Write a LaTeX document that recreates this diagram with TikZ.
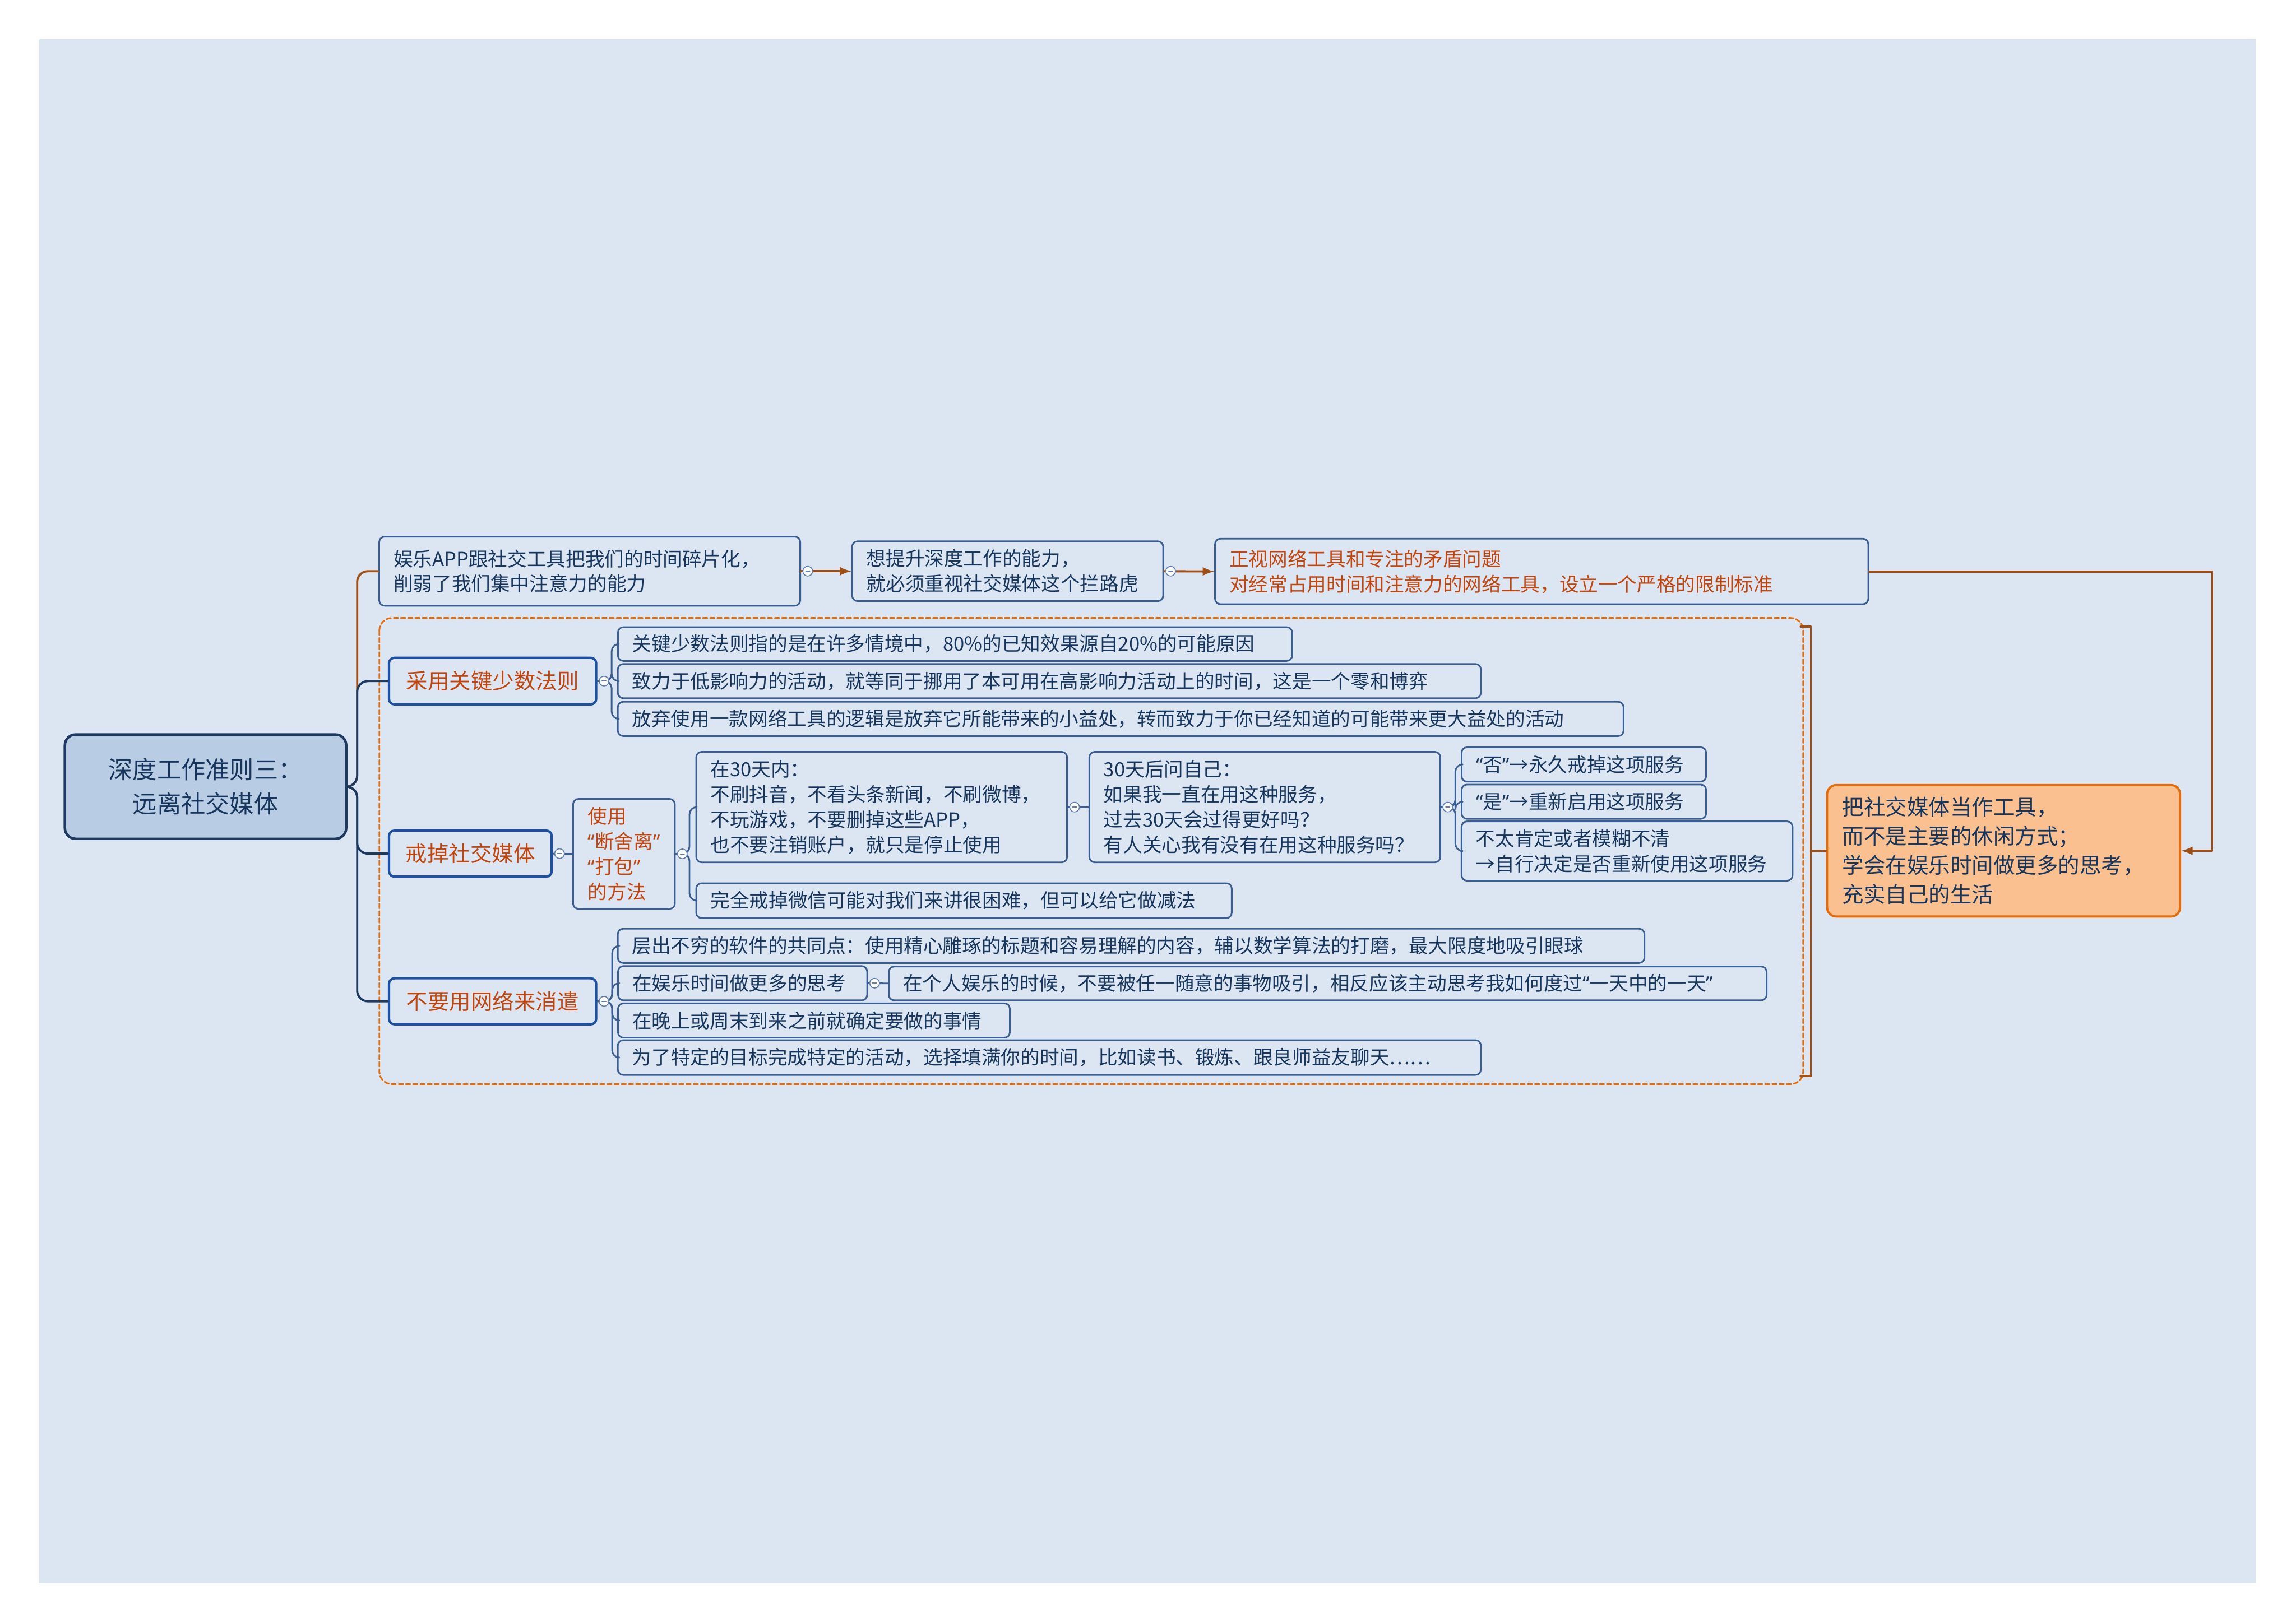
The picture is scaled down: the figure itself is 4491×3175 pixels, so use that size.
\documentclass[tikz,border=0pt]{standalone}
\usepackage{fontspec}
\newfontfamily\cjk{Noto Sans CJK SC}
\newfontfamily\latinq{Noto Sans}
\newcommand\qo{{\latinq “}}
\newcommand\qc{{\latinq ”}}
\usetikzlibrary{arrows}
\definecolor{bgblue}{HTML}{DCE6F2}
\definecolor{rootfill}{HTML}{B8CCE4}
\definecolor{rootline}{HTML}{1F3A60}
\definecolor{navy}{HTML}{17365D}
\definecolor{leafline}{HTML}{3A5E92}
\definecolor{branchline}{HTML}{1E50A2}
\definecolor{redtext}{HTML}{C2450E}
\definecolor{brownline}{HTML}{9E4E17}
\definecolor{dashorange}{HTML}{E46C0A}
\definecolor{peach}{HTML}{FAC090}
\definecolor{knobline}{HTML}{5D7DB0}
\begin{document}
\begin{tikzpicture}[x=0.01cm,y=-0.01cm,line cap=round,line join=round,>=latex,
  box/.style={draw=leafline,fill=bgblue,line width=0.9pt,rounded corners=3pt,align=left,
    inner xsep=0.28cm,inner ysep=0pt,text=navy,font=\cjk\fontsize{10.8pt}{14pt}\selectfont},
  redbox/.style={box,text=redtext},
  branch/.style={box,draw=branchline,line width=1.3pt,align=center,text=redtext,
    font=\cjk\fontsize{12pt}{15pt}\selectfont},
  rootbox/.style={draw=rootline,fill=rootfill,line width=1.4pt,rounded corners=6pt,align=center,
    text=navy,font=\cjk\fontsize{13.5pt}{19pt}\selectfont},
  resultbox/.style={draw=dashorange,fill=peach,line width=1.2pt,rounded corners=5pt,align=left,
    inner xsep=0.3cm,inner ysep=0pt,text=navy,font=\cjk\fontsize{12pt}{16.2pt}\selectfont},
  knob/.style={circle,draw=knobline,fill=white,line width=0.5pt,inner sep=0pt,minimum size=0.19cm,
    path picture={\draw[knobline,line width=0.6pt]
      ([xshift=-0.04cm]path picture bounding box.center) -- ([xshift=0.04cm]path picture bounding box.center);}},
  conn/.style={draw=leafline,line width=0.9pt,rounded corners=4pt},
  trunk/.style={draw=rootline,line width=1.2pt,rounded corners=6pt},
  tie/.style={draw=brownline,line width=1.2pt},
  frame/.style={draw=dashorange,line width=0.9pt,dash pattern=on 2.6pt off 1.4pt,rounded corners=7pt}]
  \path[fill=white,use as bounding box] (0,0) rectangle (4491,3175);
  \fill[bgblue] (77,77) rectangle (4412,3097);
  \draw[frame] (742,1209) rectangle (3527,2121);

  \node[rootbox,minimum width=5.5cm,minimum height=2.04cm] (rule) at (402,1539) {深度工作准则三：\\远离社交媒体};
  \node[box,text width=7.67cm,minimum height=1.35cm] (apps) at (1153.5,1117.5) {娱乐APP跟社交工具把我们的时间碎片化，\\削弱了我们集中注意力的能力};
  \node[box,text width=5.52cm,minimum height=1.17cm] (ability) at (1971,1117.5) {想提升深度工作的能力，\\就必须重视社交媒体这个拦路虎};
  \node[redbox,text width=12.21cm,minimum height=1.28cm] (limit) at (3015.5,1118) {正视网络工具和专注的矛盾问题\\对经常占用时间和注意力的网络工具，设立一个严格的限制标准};

  \node[branch,minimum width=4.05cm,minimum height=0.91cm] (vital) at (963.5,1332.5) {采用关键少数法则};
  \node[box,text width=12.62cm,minimum height=0.66cm] (vital1) at (1868,1260) {关键少数法则指的是在许多情境中，80\%的已知效果源自20\%的可能原因};
  \node[box,text width=16.31cm,minimum height=0.67cm] (vital2) at (2052.5,1332.5) {致力于低影响力的活动，就等同于挪用了本可用在高影响力活动上的时间，这是一个零和博弈};
  \node[box,text width=19.10cm,minimum height=0.67cm] (vital3) at (2192,1406.5) {放弃使用一款网络工具的逻辑是放弃它所能带来的小益处，转而致力于你已经知道的可能带来更大益处的活动};

  \node[branch,minimum width=3.18cm,minimum height=0.9cm] (quit) at (920,1670) {戒掉社交媒体};
  \node[redbox,minimum width=1.99cm,minimum height=2.15cm,inner xsep=0.2cm] (method) at (1220.5,1670.5) {使用\\\qo 断舍离\qc\\\qo 打包\qc\\的方法};
  \node[box,text width=6.69cm,minimum height=2.16cm] (days) at (1724.5,1579) {在30天内：\\不刷抖音，不看头条新闻，不刷微博，\\不玩游戏，不要删掉这些APP，\\也不要注销账户，就只是停止使用};
  \node[box,text width=6.30cm,minimum height=2.16cm] (ask) at (2474,1579) {30天后问自己：\\如果我一直在用这种服务，\\过去30天会过得更好吗？\\有人关心我有没有在用这种服务吗？};
  \node[box,text width=9.91cm,minimum height=0.68cm] (wechat) at (1885.5,1762) {完全戒掉微信可能对我们来讲很困难，但可以给它做减法};
  \node[box,text width=4.22cm,minimum height=0.67cm] (ansno) at (3098,1495.5) {\qo 否\qc→永久戒掉这项服务};
  \node[box,text width=4.22cm,minimum height=0.67cm] (ansyes) at (3098,1568.5) {\qo 是\qc→重新启用这项服务};
  \node[box,text width=5.91cm,minimum height=1.16cm] (ansvague) at (3182.5,1665) {不太肯定或者模糊不清\\→自行决定是否重新使用这项服务};

  \node[branch,minimum width=4.05cm,minimum height=0.9cm] (noidle) at (963.5,1959) {不要用网络来消遣};
  \node[box,text width=19.51cm,minimum height=0.67cm] (idle1) at (2212.5,1850.5) {层出不穷的软件的共同点：使用精心雕琢的标题和容易理解的内容，辅以数学算法的打磨，最大限度地吸引眼球};
  \node[box,text width=4.31cm,minimum height=0.67cm] (idle2) at (1452.5,1923.5) {在娱乐时间做更多的思考};
  \node[box,text width=16.60cm,minimum height=0.66cm] (idle2a) at (2597,1924) {在个人娱乐的时候，不要被任一随意的事物吸引，相反应该主动思考我如何度过\qo 一天中的一天\qc};
  \node[box,text width=7.10cm,minimum height=0.67cm] (idle3) at (1592,1996.5) {在晚上或周末到来之前就确定要做的事情};
  \node[box,text width=16.31cm,minimum height=0.68cm] (idle4) at (2052.5,2069) {为了特定的目标完成特定的活动，选择填满你的时间，比如读书、锻炼、跟良师益友聊天……};

  \node[resultbox,text width=6.30cm,minimum height=2.57cm] (result) at (3919,1664.5) {把社交媒体当作工具，\\而不是主要的休闲方式；\\学会在娱乐时间做更多的思考，\\充实自己的生活};

  \draw[tie,rounded corners=6pt] (rule.east) -- ++(19,0) |- (apps.west);
  \foreach \b in {vital,quit,noidle}
    \draw[trunk] (rule.east) -- ++(19,0) |- (\b.west);
  \draw[tie,->] (apps.east) -- (ability.west);
  \draw[tie,->] (ability.east) -- (limit.west);
  \draw[tie,->] (limit.east) -- ++(671,0) |- (result.east);
  \coordinate (sumtop) at (3542,1226);
  \coordinate (sumbot) at (3542,2105);
  \coordinate (sumhook) at (3542,1665);
  \draw[tie] (3522,1226) -- (sumtop) -- (sumbot) -- (3522,2105);
  \draw[tie] (sumhook) -- (result.west);

  \foreach \c in {vital1,vital2,vital3}
    \draw[conn] (vital.east) -- ++(28,0) |- (\c.west);
  \draw[conn] (quit.east) -- (method.west);
  \foreach \c in {days,wechat}
    \draw[conn] (method.east) -- ++(27,0) |- (\c.west);
  \draw[conn] (days.east) -- (ask.west);
  \foreach \c in {ansno,ansyes,ansvague}
    \draw[conn] (ask.east) -- ++(28,0) |- (\c.west);
  \foreach \c in {idle1,idle2,idle3,idle4}
    \draw[conn] (noidle.east) -- ++(29,0) |- (\c.west);
  \draw[conn] (idle2.east) -- (idle2a.west);

  \foreach \p in {apps,ability,vital,quit,method,days,ask,noidle,idle2}
    \node[knob] (knob-\p) at ([xshift=0.13cm]\p.east) {};
\end{tikzpicture}
\end{document}
